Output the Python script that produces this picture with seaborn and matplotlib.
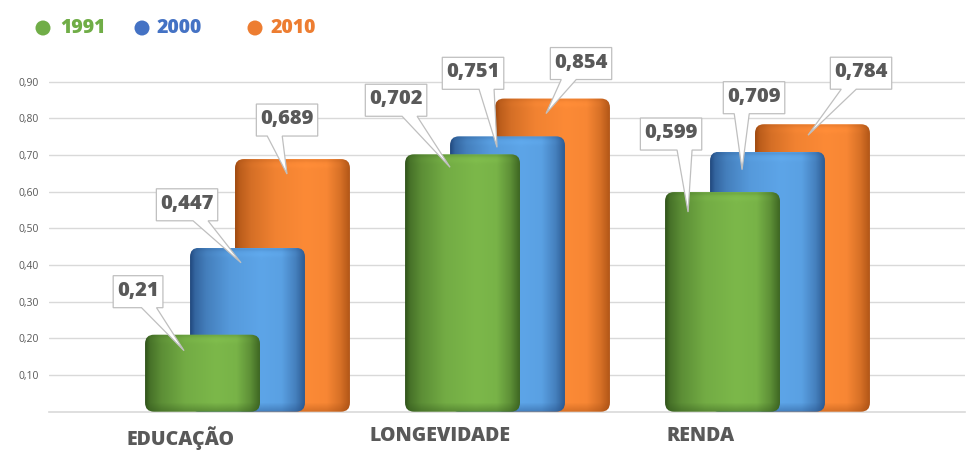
import numpy as np
import pandas as pd
import seaborn as sns
import matplotlib
matplotlib.use("Agg")
import matplotlib.pyplot as plt
from matplotlib.patches import FancyBboxPatch, Polygon, Ellipse
from matplotlib.transforms import IdentityTransform

# ---------------- DATA ----------------
CATEGORIES = ["EDUCAÇÃO", "LONGEVIDADE", "RENDA"]
YEARS = ["1991", "2000", "2010"]
V1991 = [0.21, 0.702, 0.599]
V2000 = [0.447, 0.751, 0.709]
V2010 = [0.689, 0.854, 0.784]
VALUE_LABELS_1991 = ["0,21", "0,702", "0,599"]
VALUE_LABELS_2000 = ["0,447", "0,751", "0,709"]
VALUE_LABELS_2010 = ["0,689", "0,854", "0,784"]
Y_TICKS = [0.1, 0.2, 0.3, 0.4, 0.5, 0.6, 0.7, 0.8, 0.9]
Y_TICK_LABELS = ["0,10", "0,20", "0,30", "0,40", "0,50", "0,60", "0,70", "0,80", "0,90"]

# ---------------- STYLE / LAYOUT ----------------
LEGEND_COLORS = ["#70ad47", "#4472c4", "#ed7d31"]
BAR_BASE = [(124, 184, 74), (93, 165, 232), (252, 138, 54)]
BAR_DARK = [(48, 84, 26), (34, 74, 128), (160, 74, 16)]
TEXT_GRAY = "#595959"
GRID_GRAY = "#d9d9d9"
HEAVY = 800
W, H = 976, 463
BAR_W = 0.442          # bar width in category units
BAR_SHIFT = 0.173      # shift between overlapping series
LABEL_SHIFT = -0.258   # category label position relative to group centre
# callout layout in pixels: tip offset from bar top-left (dx, down), box centre offset from tip (dx, down)
TIP_OFF = {
    0: [(39, 16), (45, 13), (23, 20)],
    1: [(51, 15), (47, 11), (32, 18)],
    2: [(52, 15), (51, 15), (53, 11)],
}
BOX_OFF = {
    0: [(-46, -59), (-54, -67), (-17, -78)],
    1: [(-54, -58), (-24, -74), (12, -72)],
    2: [(0, -54), (35, -50), (53, -62)],
}
LEGEND_POS = [(43, 60), (142, 157), (255, 271)]  # circle x, text x (px)
LEGEND_Y = 28

sns.set_style("white")
plt.rcParams["font.family"] = ["Open Sans", "DejaVu Sans"]

fig = plt.figure(figsize=(W / 100, H / 100), dpi=100)
ax_bottom = 411.7
ax_h = 0.95 * 366.7
ax = fig.add_axes([49 / W, (H - ax_bottom) / H, 916 / W, ax_h / H])

series = [V1991, V2000, V2010]
labels_all = [VALUE_LABELS_1991, VALUE_LABELS_2000, VALUE_LABELS_2010]
geoms = {}
for si in [2, 1, 0]:
    n0 = len(ax.patches)
    sns.barplot(x=CATEGORIES, y=series[si], ax=ax, color=LEGEND_COLORS[si],
                width=BAR_W, errorbar=None, order=CATEGORIES)
    newp = ax.patches[n0:]
    offset = (si - 1) * BAR_SHIFT
    g = []
    for p in newp:
        p.set_x(p.get_x() + offset)
        g.append((p.get_x(), p.get_width(), p.get_height()))
        p.set_visible(False)
    geoms[si] = g

xl = (49 - 247.5) / 260
xr = (965 - 247.5) / 260
ax.set_xlim(xl, xr)
ax.set_ylim(0, 0.95)

# pixel scales
fig.canvas.draw()
p0 = ax.transData.transform((0, 0))
p1 = ax.transData.transform((1, 1))
px_x = p1[0] - p0[0]
px_y = p1[1] - p0[1]

r_px = 9
r_data = r_px / px_x
m_aspect = px_x / px_y


def profile(t):
    return np.interp(t, [0, 0.04, 0.14, 0.35, 0.62, 0.8, 0.92, 1.0],
                     [0.0, 0.3, 0.58, 0.88, 1.0, 0.95, 0.6, 0.2])


for si in [2, 1, 0]:
    base = np.array(BAR_BASE[si]) / 255
    dark = np.array(BAR_DARK[si]) / 255
    for (x0, w, h) in geoms[si]:
        ncol = max(int(w * px_x), 2)
        nrow = max(int(h * px_y), 2)
        t = np.linspace(0, 1, ncol)
        f = profile(t)
        ry = np.arange(nrow).astype(float)
        v = np.ones(nrow)
        v = v - 0.12 * np.exp(-((ry - 1.0) / 1.5) ** 2) + 0.05 * np.exp(-((ry - 6.0) / 2.5) ** 2)
        bot = ry > nrow - 10
        v[bot] = v[bot] * (1 - 0.45 * ((ry[bot] - (nrow - 10)) / 10.0))
        arr = dark[None, None, :] + (base - dark)[None, None, :] * (f[None, :, None] * v[:, None, None])
        arr = np.clip(arr, 0, 1)
        patch = FancyBboxPatch((x0, 0), w, h,
                               boxstyle=f"round,pad=0,rounding_size={r_data}",
                               mutation_aspect=m_aspect, transform=ax.transData,
                               facecolor="none", edgecolor="none", zorder=3 + (2 - si))
        ax.add_patch(patch)
        im = ax.imshow(arr, extent=[x0, x0 + w, 0, h], origin="upper", aspect="auto",
                       interpolation="bilinear", zorder=3 + (2 - si))
        im.set_clip_path(patch)

ax.set_xlim(xl, xr)
ax.set_ylim(0, 0.95)

# axes styling
ax.set_yticks(Y_TICKS)
ax.set_yticklabels(Y_TICK_LABELS)
ax.tick_params(axis="y", length=0, pad=7.5, labelsize=7.5, labelcolor=TEXT_GRAY)
ax.set_xticks([i + LABEL_SHIFT for i in range(len(CATEGORIES))])
ax.set_xticklabels(CATEGORIES, fontsize=14, fontweight=HEAVY, color=TEXT_GRAY)
ax.tick_params(axis="x", length=0, pad=10.5)
ax.yaxis.grid(True, color=GRID_GRAY, lw=1)
ax.set_axisbelow(True)
for s in ["top", "right", "left"]:
    ax.spines[s].set_visible(False)
ax.spines["bottom"].set_color(GRID_GRAY)
ax.spines["bottom"].set_linewidth(1.2)
ax.set_xlabel("")
ax.set_ylabel("")

# callouts
fig.canvas.draw()
renderer = fig.canvas.get_renderer()
for si in range(3):
    for ci, (x0, w, h) in enumerate(geoms[si]):
        tl = ax.transData.transform((x0, h))
        tdx, tdy = TIP_OFF[si][ci]
        tip = (tl[0] + tdx, tl[1] - tdy)
        bdx, bdy = BOX_OFF[si][ci]
        cx, cy = tip[0] + bdx, tip[1] - bdy
        txt = ax.text(cx, cy + 1, labels_all[si][ci], transform=IdentityTransform(),
                      ha="center", va="center", fontsize=14.5, fontweight=HEAVY,
                      color=TEXT_GRAY, zorder=21)
        bb = txt.get_window_extent(renderer)
        bw = bb.width + 8
        bh = 32
        bx0, bx1 = cx - bw / 2, cx + bw / 2
        by0, by1 = cy - bh / 2, cy + bh / 2
        frac = 0.72 if tip[0] > cx else 0.3
        bc = bx0 + frac * bw
        b0, b1 = bc - 7.5, bc + 7.5
        poly = Polygon([(bx0, by1), (bx1, by1), (bx1, by0), (b1, by0), tip,
                        (b0, by0), (bx0, by0)], closed=True,
                       transform=IdentityTransform(), facecolor="white",
                       edgecolor="#bfbfbf", lw=0.9, zorder=20)
        ax.add_artist(poly)
        poly.set_clip_on(False)
        txt.set_clip_on(False)

# legend
for i, yr in enumerate(YEARS):
    cxp, txp = LEGEND_POS[i]
    e = Ellipse((cxp / W, 1 - LEGEND_Y / H), 15 / W, 15 / H, transform=fig.transFigure,
                facecolor=LEGEND_COLORS[i], edgecolor="none")
    fig.add_artist(e)
    fig.text(txp / W, 1 - LEGEND_Y / H, yr, ha="left", va="center", fontsize=14,
             fontweight=HEAVY, color=LEGEND_COLORS[i])

fig.savefig("out.png", dpi=100)
